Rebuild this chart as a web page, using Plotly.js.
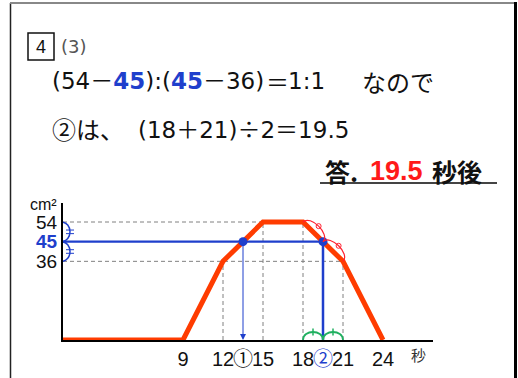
<!DOCTYPE html>
<html>
<head>
<meta charset="utf-8">
<script src="https://cdn.plot.ly/plotly-3.0.1.min.js"></script>
<style>
html,body{margin:0;padding:0;background:#fff;}
#chart{width:518px;height:378px;}
</style>
</head>
<body>
<div id="chart"></div>
<script>
// ---- data ----
const timeSec = [0, 9, 12, 15, 18, 21, 24];
const areaCm2 = [0, 0, 36, 54, 54, 36, 0];
const answerArea = 45;
const answerTimes = [13.5, 19.5];
const yTickVals = [36, 45, 54];
const yTickText = ['36', '<b><span style="color:#1f3fcc">45</span></b>', '54'];
const xTickVals = [9, 12, 13.5, 15, 18, 19.5, 21, 24];
const xTickText = ['9', '12', '①', '15', '18', '<span style="color:#1f3fcc">②</span>', '21', '24'];
const dashedH = [[0, 15, 54], [0, 21, 36]];          // [x0, x1, y]
const dashedV = [[12, 36], [15, 54], [18, 54], [21, 36]]; // [x, yTop]

// ---- geometry ----
const W = 518, H = 378;
const xDom = [63 / W, 433 / W], yDom = [1 - 340 / H, 1 - 203 / H];
const xRange = [0, 27.75], yRange = [0, 62.7];
const pxX = (xDom[1] - xDom[0]) * W / (xRange[1] - xRange[0]);
const pxY = (yDom[1] - yDom[0]) * H / (yRange[1] - yRange[0]);
const px = (x, y) => [x * pxX, -y * pxY];
const dt = (X, Y) => [X / pxX, -Y / pxY];
const P = (x, y) => [x / W, 1 - y / H];

function arc(p0, p1, h) {
  const A = px(p0[0], p0[1]), B = px(p1[0], p1[1]);
  const dx = B[0] - A[0], dy = B[1] - A[1], L = Math.hypot(dx, dy);
  const n = [dy / L, -dx / L], t = [dx / L, dy / L], k = h * 4 / 3;
  const c0 = dt(A[0] + n[0] * k, A[1] + n[1] * k), c1 = dt(B[0] + n[0] * k, B[1] + n[1] * k);
  const a = dt(A[0], A[1]), b = dt(B[0], B[1]);
  const mid = [(A[0] + B[0]) / 2 + n[0] * h, (A[1] + B[1]) / 2 + n[1] * h];
  return {path: `M${a[0]},${a[1]} C${c0[0]},${c0[1]} ${c1[0]},${c1[1]} ${b[0]},${b[1]}`, apex: mid, n, t};
}
function seg(Pa, Pb) { const a = dt(Pa[0], Pa[1]), b = dt(Pb[0], Pb[1]); return `M${a[0]},${a[1]} L${b[0]},${b[1]}`; }

const shapes = [];
// dashed guides
dashedH.forEach(d => shapes.push({type: 'line', xref: 'x', yref: 'y', x0: d[0], x1: d[1], y0: d[2], y1: d[2], layer: 'below', line: {color: '#808080', width: 1, dash: '4px,3px'}}));
dashedV.forEach(d => shapes.push({type: 'line', xref: 'x', yref: 'y', x0: d[0], x1: d[0], y0: 0, y1: d[1], layer: 'below', line: {color: '#808080', width: 1, dash: '4px,3px'}}));

// blue braces on y axis
[[54, 45], [45, 36]].forEach(([ya, yb]) => {
  const r = arc([-0.15, ya], [-0.15, yb], 9);
  shapes.push({type: 'path', xref: 'x', yref: 'y', path: r.path, line: {color: '#1f3fcc', width: 1.5}});
  [-1.8, 1.8].forEach(o => {
    const c = [r.apex[0] + r.t[0] * o, r.apex[1] + r.t[1] * o];
    shapes.push({type: 'path', xref: 'x', yref: 'y', path: seg([c[0] - r.n[0] * 4, c[1] - r.n[1] * 4], [c[0] + r.n[0] * 4, c[1] + r.n[1] * 4]), line: {color: '#1f3fcc', width: 1}});
  });
});
// red arcs on descending segment
[[[18, 54], [answerTimes[1], answerArea]], [[answerTimes[1], answerArea], [21, 36]]].forEach(([a, b]) => {
  const r = arc(a, b, 8);
  shapes.push({type: 'path', xref: 'x', yref: 'y', path: r.path, line: {color: '#ff2030', width: 1.2}});
  const c0 = dt(r.apex[0] - 2.5, r.apex[1] - 2.5), c1 = dt(r.apex[0] + 2.5, r.apex[1] + 2.5);
  shapes.push({type: 'circle', xref: 'x', yref: 'y', x0: c0[0], x1: c1[0], y0: c0[1], y1: c1[1], line: {color: '#ff2030', width: 1}});
});
// green arcs on x axis
[[18, answerTimes[1]], [answerTimes[1], 21]].forEach(([a, b]) => {
  const r = arc([a, 0], [b, 0], 8);
  shapes.push({type: 'path', xref: 'x', yref: 'y', path: r.path, line: {color: '#20b060', width: 1.8}});
  shapes.push({type: 'path', xref: 'x', yref: 'y', path: seg([r.apex[0] - r.n[0] * 3.5, r.apex[1] - r.n[1] * 3.5], [r.apex[0] + r.n[0] * 3.5, r.apex[1] + r.n[1] * 3.5]), line: {color: '#20b060', width: 1.5}});
});

// frame
shapes.push({type: 'line', xref: 'paper', yref: 'paper', x0: 10.5 / W, x1: 10.5 / W, y0: 0, y1: 1 - 3 / H, line: {color: '#222', width: 1.5}});
shapes.push({type: 'line', xref: 'paper', yref: 'paper', x0: 10 / W, x1: 516 / W, y0: 1 - 3 / H, y1: 1 - 3 / H, line: {color: '#888', width: 2}});
shapes.push({type: 'line', xref: 'paper', yref: 'paper', x0: 515.5 / W, x1: 515.5 / W, y0: 0, y1: 1 - 2 / H, line: {color: '#000', width: 3}});
// box around 4
shapes.push({type: 'rect', xref: 'paper', yref: 'paper', x0: 28 / W, x1: 54 / W, y0: 1 - 60 / H, y1: 1 - 33 / H, line: {color: '#111', width: 1.5}});
// answer underline
shapes.push({type: 'line', xref: 'paper', yref: 'paper', x0: 320 / W, x1: 497 / W, y0: 1 - 183 / H, y1: 1 - 183 / H, line: {color: '#444', width: 2}});

const FONT = 'Liberation Sans, Arial, Noto Sans CJK JP, sans-serif';
const DV = 'DejaVu Sans, Noto Sans CJK JP, sans-serif';
const CJK = 'Noto Sans CJK JP, sans-serif';
function txt(t, x, y, size, opts) {
  const p = P(x, y);
  const o = Object.assign({}, opts || {});
  const font = {family: o.family || FONT, size: size, color: o.color || '#111'};
  delete o.family; delete o.color;
  return Object.assign({text: t, xref: 'paper', yref: 'paper', x: p[0], y: p[1], xanchor: 'left', yanchor: 'middle', showarrow: false, borderpad: 0, font: font}, o);
}
const BLUE = '#1f3fcc';
const B = s => `<b><span style="color:${BLUE}">${s}</span></b>`;
const annotations = [
  txt('4', 41, 47, 18, {xanchor: 'center'}),
  txt('(3)', 60, 47, 18, {family: DV, color: '#555'}),
  // line 1
  txt(`(54－${B('45')}):(${B('45')}－36)`, 51, 81, 23, {family: DV}),
  txt('＝', 265, 81, 23, {family: CJK}),
  txt('1:1', 287, 81, 23, {family: DV}),
  txt('なので', 361, 81, 24, {family: CJK}),
  // line 2
  txt('②は、', 51, 128, 24, {family: CJK}),
  txt('(18＋21)<span style="font-family:Noto Sans CJK JP">÷</span>2＝19.5', 137, 128, 23, {family: DV}),
  // answer
  txt('<b>答.</b>', 324, 171, 25, {family: CJK}),
  txt('<b>19.5</b>', 369, 171, 27, {color: '#ff1a1a'}),
  txt('<b>秒後</b>', 431, 171, 25, {family: CJK}),
  txt('cm²', 29, 204, 16),
  txt('秒', 410, 354, 15, {family: CJK, color: '#333'}),
  {xref: 'x', yref: 'y', axref: 'x', ayref: 'y', x: answerTimes[0], y: 0, ax: answerTimes[0], ay: answerArea, text: '', showarrow: true, arrowhead: 2, arrowsize: 1.2, arrowwidth: 1, arrowcolor: BLUE}
];

const traces = [
  {x: [0, answerTimes[1]], y: [answerArea, answerArea], mode: 'lines', line: {color: BLUE, width: 2.2}, hoverinfo: 'skip', cliponaxis: false},
  {x: [answerTimes[1], answerTimes[1]], y: [answerArea, 0], mode: 'lines', line: {color: BLUE, width: 2.5}, hoverinfo: 'skip', cliponaxis: false},
  {x: timeSec, y: areaCm2, mode: 'lines', line: {color: '#ff3c00', width: 5}, hoverinfo: 'skip', cliponaxis: false},
  {x: answerTimes, y: [answerArea, answerArea], mode: 'markers', marker: {color: BLUE, size: 9}, hoverinfo: 'skip', cliponaxis: false}
];

const layout = {
  width: W, height: H, margin: {l: 0, r: 0, t: 0, b: 0},
  paper_bgcolor: '#fff', plot_bgcolor: '#fff', showlegend: false,
  xaxis: {domain: xDom, range: xRange, showgrid: false, zeroline: false, showline: true, linecolor: '#000', linewidth: 2,
    tickmode: 'array', tickvals: xTickVals, ticktext: xTickText, ticks: '', tickangle: 0, automargin: false,
    tickfont: {family: FONT, size: 20, color: '#111'}, fixedrange: true},
  yaxis: {domain: yDom, range: yRange, showgrid: false, zeroline: false, showline: true, linecolor: '#000', linewidth: 2,
    tickmode: 'array', tickvals: yTickVals, ticktext: yTickText, ticks: '', automargin: false,
    tickfont: {family: FONT, size: 19, color: '#111'}, fixedrange: true},
  shapes: shapes, annotations: annotations
};
Plotly.newPlot('chart', traces, layout, {displayModeBar: false, staticPlot: true});
</script>
</body>
</html>
